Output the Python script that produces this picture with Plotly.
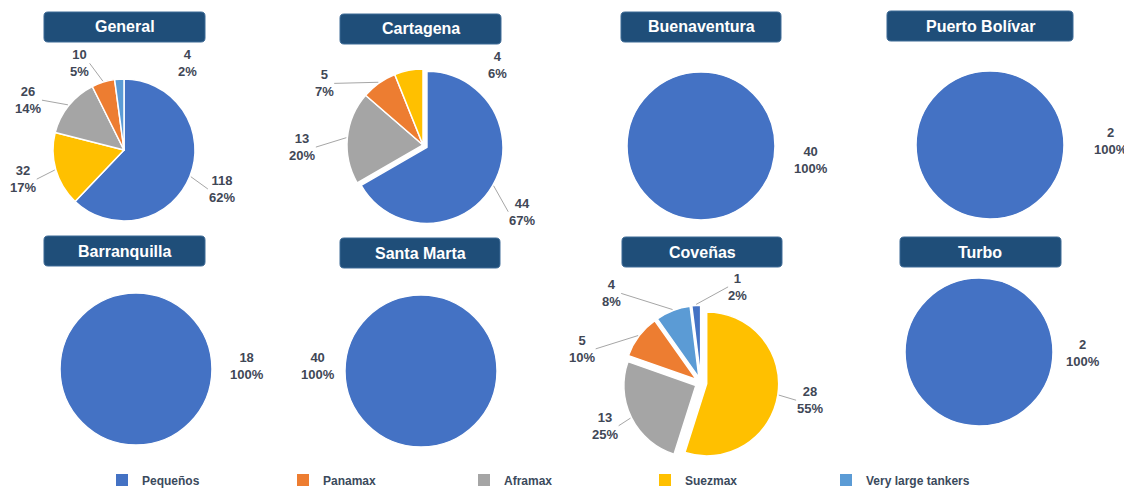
import math
import plotly.graph_objects as go

# ---------------- data ----------------
categories = ["Pequeños", "Panamax", "Aframax", "Suezmax", "Very large tankers"]
ports = ["General", "Cartagena", "Buenaventura", "Puerto Bolívar",
         "Barranquilla", "Santa Marta", "Coveñas", "Turbo"]
# values per port, in the order of `categories`
general = [118, 10, 26, 32, 4]
cartagena = [44, 5, 13, 4, 0]
buenaventura = [40, 0, 0, 0, 0]
puerto_bolivar = [2, 0, 0, 0, 0]
barranquilla = [18, 0, 0, 0, 0]
santa_marta = [40, 0, 0, 0, 0]
covenas = [1, 5, 13, 28, 4]
turbo = [2, 0, 0, 0, 0]
port_values = [general, cartagena, buenaventura, puerto_bolivar,
               barranquilla, santa_marta, covenas, turbo]

# ---------------- style / layout ----------------
PAGE_W, PAGE_H = 1132, 489
OFF = 8  # default page margin of the html body
W, H = PAGE_W - OFF, PAGE_H
colors = ["#4472C4", "#ED7D31", "#A5A5A5", "#FFC000", "#5B9BD5"]
LABEL_COLOR = "#3F4756"
FONT = "Liberation Sans, Arial, sans-serif"

# pie centre (page px), radius (px), pull per category, default label distance factor
GEOM = {
    "General":        dict(cx=124, cy=150, r=71, pull={}, f=1.48),
    "Cartagena":      dict(cx=423, cy=145, r=76, pull={"Pequeños": 0.06}, f=1.55),
    "Buenaventura":   dict(cx=701, cy=146, r=74, pull={}, f=1.5),
    "Puerto Bolívar": dict(cx=990, cy=145, r=74, pull={}, f=1.63),
    "Barranquilla":   dict(cx=136, cy=369, r=76, pull={}, f=1.46),
    "Santa Marta":    dict(cx=421, cy=371, r=76, pull={}, f=1.36),
    "Coveñas":        dict(cx=701, cy=383, r=72,
                           pull={c: 0.08 for c in categories}, f=1.5),
    "Turbo":          dict(cx=979, cy=352, r=74, pull={}, f=1.41),
}
# label placement overrides: (angle clockwise from 12 o'clock, distance factor)
LABEL_PLACE = {
    ("General", "Aframax"): (297.5, 1.52),
    ("General", "Panamax"): (333, 1.37),
    ("General", "Very large tankers"): (36, 1.51),
    ("Cartagena", "Pequeños"): (124, 1.57),
    ("Cartagena", "Aframax"): (269, 1.59),
    ("Cartagena", "Panamax"): (302, 1.53),
    ("Cartagena", "Suezmax"): (43, 1.44),
    ("Coveñas", "Suezmax"): (99, 1.53),
    ("Coveñas", "Aframax"): (246, 1.46),
    ("Coveñas", "Panamax"): (286, 1.72),
    ("Coveñas", "Very large tankers"): (315, 1.76),
    ("Coveñas", "Pequeños"): (21, 1.43),
    ("Buenaventura", "Pequeños"): (97, 1.5),
    ("Puerto Bolívar", "Pequeños"): (88, 1.63),
    ("Barranquilla", "Pequeños"): (88.5, 1.46),
    ("Santa Marta", "Pequeños"): (273, 1.36),
    ("Turbo", "Pequeños"): (90.5, 1.41),
}
TITLE_BOX = {
    "General": (44, 12, 205, 42),
    "Cartagena": (340, 14, 501, 44),
    "Buenaventura": (621, 12, 781, 42),
    "Puerto Bolívar": (887, 11, 1073, 41),
    "Barranquilla": (44, 236, 205, 266),
    "Santa Marta": (340, 238, 500, 268),
    "Coveñas": (622, 237, 782, 267),
    "Turbo": (900, 237, 1061, 267),
}
LEGEND_LEFT, LEGEND_Y = 102, 480


def px(x):
    return (x - OFF) / W


def py(y):
    return 1 - (y - OFF) / H


def percents(vals):
    """Largest-remainder rounding so the shown percents add to 100."""
    tot = sum(vals)
    raw = [v * 100 / tot for v in vals]
    fl = [math.floor(x) for x in raw]
    rest = 100 - sum(fl)
    order = sorted(range(len(vals)), key=lambda i: raw[i] - fl[i], reverse=True)
    for i in order[:rest]:
        fl[i] += 1
    return fl


def rounded_rect(x0, y0, x1, y1, rad):
    pts = [
        ("M", [(x0 + rad, y0)]), ("L", [(x1 - rad, y0)]),
        ("Q", [(x1, y0), (x1, y0 + rad)]), ("L", [(x1, y1 - rad)]),
        ("Q", [(x1, y1), (x1 - rad, y1)]), ("L", [(x0 + rad, y1)]),
        ("Q", [(x0, y1), (x0, y1 - rad)]), ("L", [(x0, y0 + rad)]),
        ("Q", [(x0, y0), (x0 + rad, y0)]),
    ]
    s = ""
    for cmd, p in pts:
        s += cmd + " ".join(f"{px(a):.6f},{py(b):.6f}" for a, b in p) + " "
    return s + "Z"


fig = go.Figure()
annotations = []
shapes = []

for port, vals in zip(ports, port_values):
    g = GEOM[port]
    items = [(c, v, col) for c, v, col in zip(categories, vals, colors) if v > 0]
    items.sort(key=lambda t: t[1], reverse=True)
    labs = [t[0] for t in items]
    vs = [t[1] for t in items]
    cols = [t[2] for t in items]
    pulls = [g["pull"].get(c, 0) for c in labs]
    maxp = max(pulls)
    side = 2 * g["r"] * (1 + maxp)
    fig.add_trace(go.Pie(
        labels=labs, values=vs, sort=False, direction="clockwise", rotation=0,
        marker=dict(colors=cols, line=dict(color="white", width=1.5)),
        pull=pulls, textinfo="none", showlegend=False, name=port,
        domain=dict(x=[px(g["cx"] - side / 2), px(g["cx"] + side / 2)],
                    y=[py(g["cy"] + side / 2), py(g["cy"] - side / 2)]),
    ))
    # labels
    pcts = percents(vs)
    tot = sum(vs)
    cum = 0
    for c, v, p, pl in zip(labs, vs, pcts, pulls):
        mid = (cum + v / 2) / tot * 360
        cum += v
        ang, f = LABEL_PLACE.get((port, c), (mid, g["f"]))
        lx = g["cx"] + math.sin(math.radians(ang)) * g["r"] * f
        ly = g["cy"] - math.cos(math.radians(ang)) * g["r"] * f
        annotations.append(dict(
            x=px(lx), y=py(ly), xref="paper", yref="paper", showarrow=False,
            text=f"{v}<br>{p}%", align="center", xanchor="center", yanchor="middle",
            font=dict(family=FONT, size=13, color=LABEL_COLOR, weight="bold"),
        ))
        diff = abs((ang - mid + 180) % 360 - 180)
        if len(vs) > 1 and diff < 30:
            rr = g["r"] * (1 + pl) + 1
            sx = g["cx"] + math.sin(math.radians(mid)) * rr
            sy = g["cy"] - math.cos(math.radians(mid)) * rr
            hw = max(len(str(v)), len(f"{p}%")) * 3.9 + 2
            ex = lx - hw if lx > g["cx"] else lx + hw
            ey = ly
            shapes.append(dict(type="line", xref="paper", yref="paper",
                               x0=px(sx), y0=py(sy), x1=px(ex), y1=py(ey),
                               line=dict(color="#A6A6A6", width=1)))
    # title box
    x0, y0, x1, y1 = TITLE_BOX[port]
    shapes.append(dict(type="path", xref="paper", yref="paper",
                       path=rounded_rect(x0, y0, x1, y1, 4),
                       fillcolor="#1F4E79", line=dict(color="#3D6A96", width=1),
                       layer="above"))
    annotations.append(dict(
        x=px((x0 + x1) / 2), y=py((y0 + y1) / 2), xref="paper", yref="paper",
        showarrow=False, text=port, xanchor="center", yanchor="middle",
        font=dict(family=FONT, size=16, color="white", weight="bold"),
    ))

# legend entries
for c, col in zip(categories, colors):
    fig.add_trace(go.Scatter(x=[None], y=[None], mode="markers", name=c,
                             marker=dict(symbol="square", size=12, color=col),
                             hoverinfo="skip", showlegend=True))

fig.update_layout(
    width=W, height=H,
    margin=dict(l=0, r=0, t=0, b=0),
    paper_bgcolor="white", plot_bgcolor="white",
    xaxis=dict(visible=False), yaxis=dict(visible=False),
    annotations=annotations, shapes=shapes,
    legend=dict(orientation="h", x=px(LEGEND_LEFT), xanchor="left",
                y=py(LEGEND_Y), yanchor="middle", entrywidth=136,
                entrywidthmode="pixels", bgcolor="rgba(0,0,0,0)",
                font=dict(family=FONT, size=12, color="#3B4A5C", weight="bold"),
                traceorder="normal"),
)

fig.write_html("out.html")
